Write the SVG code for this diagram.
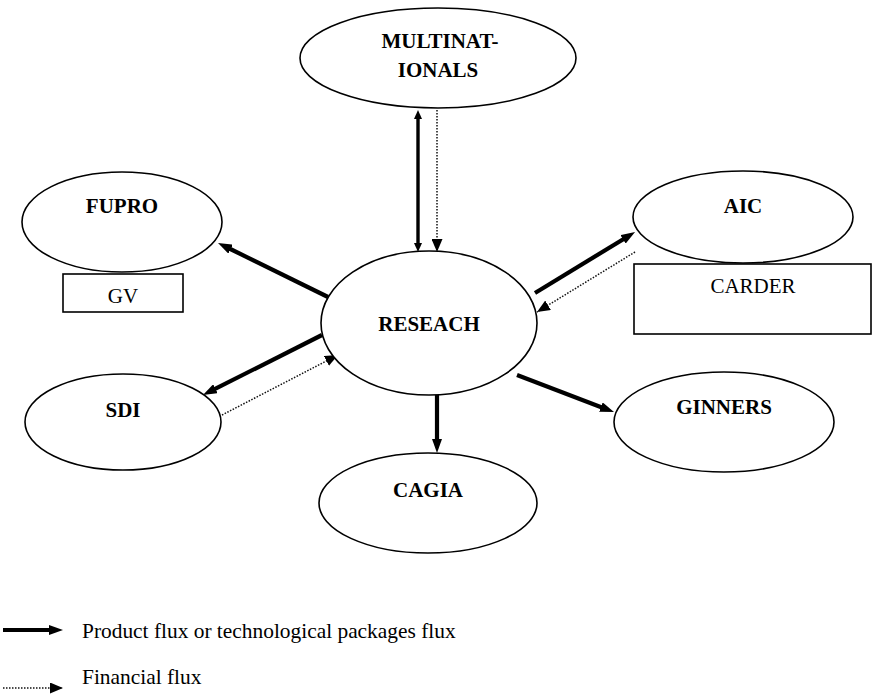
<svg xmlns="http://www.w3.org/2000/svg" width="875" height="696" viewBox="0 0 875 696">
<style>
  .node { fill: #fff; stroke: #000; stroke-width: 1.6; }
  .lbl { font-family: "Liberation Serif", "Times New Roman", serif; font-size: 21px; font-weight: bold; text-anchor: middle; fill: #000; }
  .sub { font-family: "Liberation Serif", "Times New Roman", serif; font-size: 21px; text-anchor: middle; fill: #000; }
  .leg { font-family: "Liberation Serif", "Times New Roman", serif; font-size: 21.4px; fill: #000; }
  .thick { stroke: #000; stroke-width: 4.2; fill: none; }
  .thin { stroke: #000; stroke-width: 3.4; fill: none; }
  .dot { stroke: #111; stroke-width: 1.5; stroke-dasharray: 1.5 1.5; fill: none; }
</style>
<defs>
  <marker id="ah" markerUnits="userSpaceOnUse" markerWidth="14" markerHeight="10" refX="6" refY="5" orient="auto">
    <path d="M0,0 L14,5 L0,10 z" fill="#000"/>
  </marker>
  <marker id="ahs" markerUnits="userSpaceOnUse" markerWidth="9" markerHeight="8" refX="4" refY="4" orient="auto-start-reverse">
    <path d="M0,0 L9,4 L0,8 z" fill="#000"/>
  </marker>
  <marker id="ad" markerUnits="userSpaceOnUse" markerWidth="13" markerHeight="11" refX="13" refY="5.5" orient="auto">
    <path d="M0,0 L13,5.5 L0,11 z" fill="#000"/>
  </marker>
</defs>
<rect width="875" height="696" fill="#fff"/>

<g id="connectors">
  <line class="thin" x1="418" y1="115" x2="418" y2="247" marker-start="url(#ahs)" marker-end="url(#ahs)"/>
  <line class="dot" x1="437" y1="110" x2="437" y2="252" marker-end="url(#ad)"/>
  <line class="thick" x1="328" y1="297" x2="225.2" y2="246.5" marker-end="url(#ah)"/>
  <line class="thick" x1="322" y1="335" x2="210.1" y2="391.4" marker-end="url(#ah)"/>
  <line class="dot" x1="222" y1="415" x2="338" y2="355" marker-end="url(#ad)"/>
  <line class="thick" x1="535" y1="293" x2="628.2" y2="236.2" marker-end="url(#ah)"/>
  <line class="dot" x1="635" y1="252" x2="537" y2="312" marker-end="url(#ad)"/>
  <line class="thick" x1="517" y1="375" x2="606.5" y2="409.2" marker-end="url(#ah)"/>
  <line class="thick" x1="437" y1="395" x2="437" y2="445" marker-end="url(#ah)"/>
</g>

<g id="multinationals">
  <ellipse class="node" cx="438" cy="58" rx="138" ry="50"/>
  <text class="lbl" x="440" y="48">MULTINAT-</text>
  <text class="lbl" x="438" y="77">IONALS</text>
</g>
<g id="research">
  <ellipse class="node" cx="429" cy="323" rx="108" ry="72"/>
  <text class="lbl" x="429" y="331">RESEACH</text>
</g>
<g id="fupro">
  <ellipse class="node" cx="122" cy="222" rx="100" ry="50"/>
  <text class="lbl" x="122" y="213">FUPRO</text>
</g>
<g id="gv">
  <rect class="node" x="63" y="274" width="120" height="38"/>
  <text class="sub" x="123" y="303">GV</text>
</g>
<g id="aic">
  <ellipse class="node" cx="743" cy="217" rx="110" ry="46"/>
  <text class="lbl" x="743" y="213">AIC</text>
</g>
<g id="carder">
  <rect class="node" x="634" y="264" width="237" height="70"/>
  <text class="sub" x="753" y="293">CARDER</text>
</g>
<g id="sdi">
  <ellipse class="node" cx="123" cy="422" rx="98" ry="48"/>
  <text class="lbl" x="123" y="417">SDI</text>
</g>
<g id="ginners">
  <ellipse class="node" cx="724" cy="422" rx="110" ry="50"/>
  <text class="lbl" x="724" y="414">GINNERS</text>
</g>
<g id="cagia">
  <ellipse class="node" cx="428" cy="503" rx="109" ry="50"/>
  <text class="lbl" x="428" y="497">CAGIA</text>
</g>

<g id="legend">
  <line class="thick" x1="3" y1="630" x2="55" y2="630" marker-end="url(#ah)"/>
  <text class="leg" x="82" y="638">Product flux or technological packages flux</text>
  <line class="dot" x1="3" y1="688" x2="63" y2="688" marker-end="url(#ad)"/>
  <text class="leg" x="82" y="684">Financial flux</text>
</g>
</svg>
